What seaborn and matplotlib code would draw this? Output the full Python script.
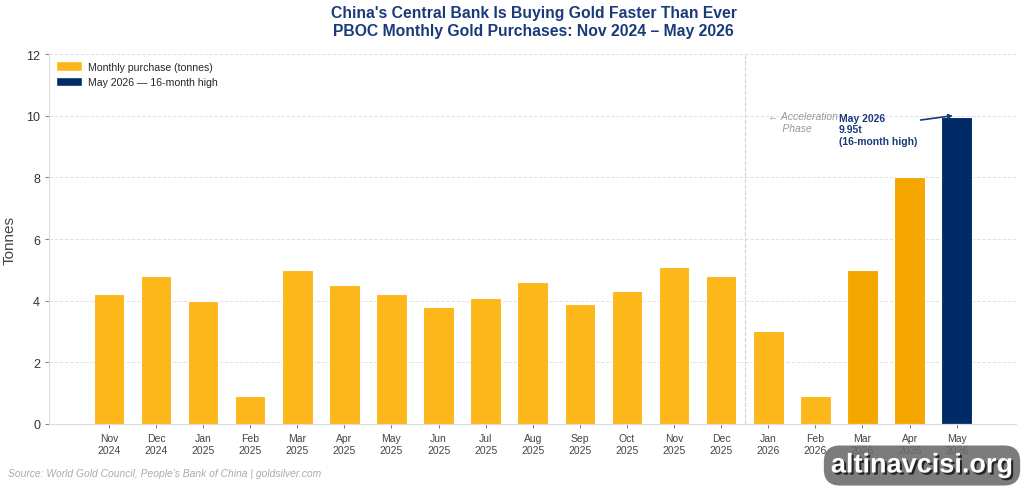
import matplotlib
matplotlib.use("Agg")
import matplotlib.pyplot as plt
import matplotlib.patheffects as pe
from matplotlib.patches import Patch
import seaborn as sns
import pandas as pd

# Data
months = ["Nov\n2024", "Dec\n2024", "Jan\n2025", "Feb\n2025", "Mar\n2025", "Apr\n2025",
          "May\n2025", "Jun\n2025", "Jul\n2025", "Aug\n2025", "Sep\n2025", "Oct\n2025",
          "Nov\n2025", "Dec\n2025", "Jan\n2026", "Feb\n2026", "Mar\n2026", "Apr\n2026",
          "May\n2026"]
tonnes = [4.2, 4.8, 4.0, 0.9, 5.0, 4.5, 4.2, 3.8, 4.1, 4.6, 3.9, 4.3, 5.1, 4.8,
          3.0, 0.9, 5.0, 8.0, 9.95]

GOLD = "#FDB71A"
GOLD_DARK = "#F5A700"
NAVY = "#002B66"
bar_colors = [GOLD] * 16 + [GOLD_DARK, GOLD_DARK, NAVY]

df = pd.DataFrame({"month": months, "tonnes": tonnes})

sns.set_style("white")
plt.rcParams["font.family"] = ["Liberation Sans", "DejaVu Sans"]

fig = plt.figure(figsize=(10.24, 4.89), dpi=100)
ax = fig.add_axes([0.0479, 0.1309, 0.9443, 0.7566])

sns.barplot(data=df, x="month", y="tonnes", hue="month", palette=bar_colors,
            legend=False, width=0.65, edgecolor="white", linewidth=0.8, ax=ax,
            saturation=1)

ax.set_ylim(0, 12)
ax.set_xlim(-1.27, 19.26)
ax.set_yticks([0, 2, 4, 6, 8, 10, 12])
ax.tick_params(axis="both", which="both", direction="out", bottom=True, left=True,
               length=3, width=0.6, color="#666666")
ax.tick_params(axis="y", labelsize=9, labelcolor="#333333")
ax.tick_params(axis="x", labelsize=7.5, labelcolor="#444444")
ax.yaxis.grid(True, linestyle="--", color="#e2e2e2", linewidth=0.7)
ax.set_axisbelow(True)
for s in ["top", "right"]:
    ax.spines[s].set_visible(False)
for s in ["left", "bottom"]:
    ax.spines[s].set_color("#dddddd")
    ax.spines[s].set_linewidth(0.8)
ax.set_xlabel("")
ax.set_ylabel("Tonnes", fontsize=11, color="#444444", labelpad=7)

# acceleration phase marker
ax.axvline(13.5, color="#d0d0d0", linestyle="--", linewidth=0.8)
ax.text(14.0, 10.15, "← Acceleration\n     Phase", fontsize=7.5, style="italic",
        color="#999999", va="top", ha="left")

ax.annotate("May 2026\n9.95t\n(16-month high)", xy=(17.92, 10.0), xytext=(15.5, 10.1),
            fontsize=7.5, fontweight="bold", color="#1a3a7a", va="top", ha="left",
            arrowprops=dict(arrowstyle="-|>", color="#1a3a7a", lw=1.2, mutation_scale=6,
                            shrinkA=0, shrinkB=0, relpos=(0.99, 0.76)))

handles = [Patch(facecolor=GOLD, label="Monthly purchase (tonnes)"),
           Patch(facecolor=NAVY, label="May 2026 — 16-month high")]
ax.legend(handles=handles, loc="upper left", fontsize=7.6, frameon=False,
          handlelength=2.4, handleheight=1.0, borderaxespad=0.3, handletextpad=0.6,
          labelspacing=0.5)

fig.text(0.521, 0.987, "China's Central Bank Is Buying Gold Faster Than Ever\n"
         "PBOC Monthly Gold Purchases: Nov 2024 – May 2026",
         ha="center", va="top", fontsize=11.3, fontweight="bold", color="#1a3a7a",
         linespacing=1.2)

fig.text(0.008, 0.03, "Source: World Gold Council, People's Bank of China | goldsilver.com",
         fontsize=7.4, style="italic", color="#aaaaaa", ha="left", va="center")

# watermark
wm = fig.text(0.9004, 0.046, "altinavcisi.org", fontsize=19.5, fontweight="bold",
              color="white", ha="center", va="center",
              bbox=dict(boxstyle="round,pad=0.26,rounding_size=0.6", facecolor="#6a6a6a",
                        edgecolor="none", alpha=0.88))
wm.set_path_effects([pe.SimplePatchShadow(offset=(1.5, -1.5), shadow_rgbFace="black",
                                          alpha=0.7), pe.Normal()])

fig.savefig("out.png", dpi=100)
